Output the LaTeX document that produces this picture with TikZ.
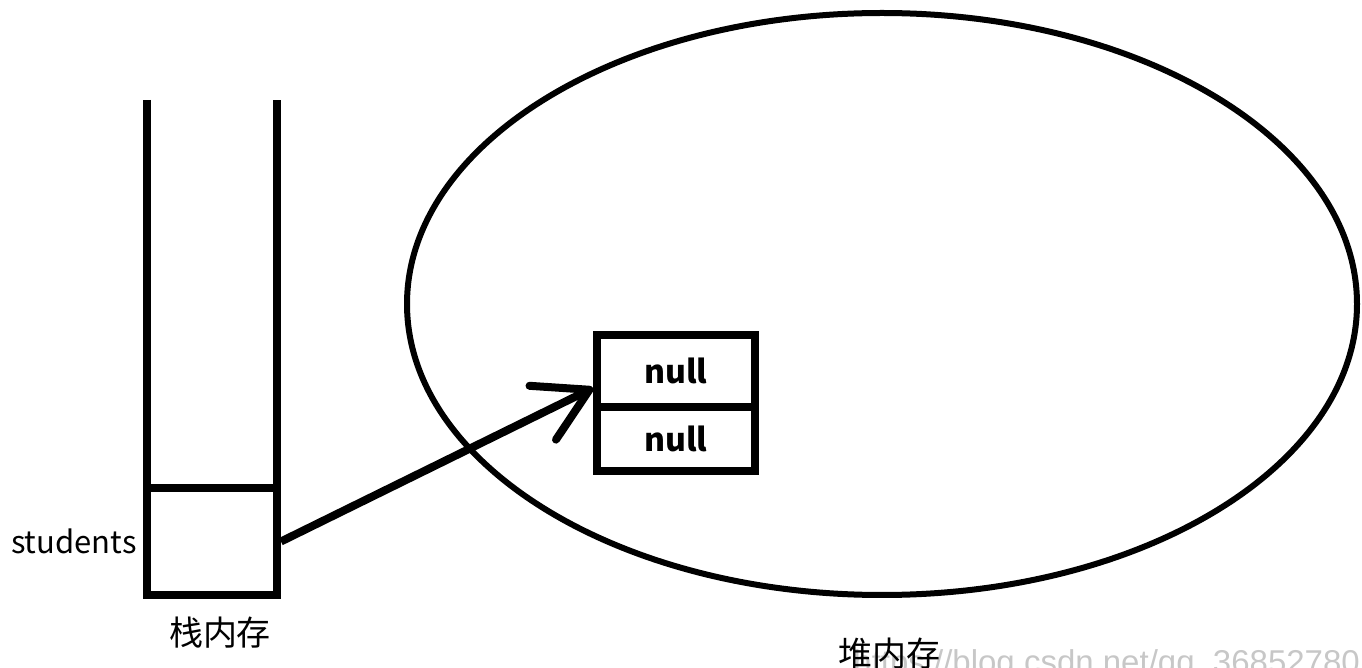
\documentclass[tikz,border=0pt]{standalone}
\usepackage{fontspec}
\setmainfont{Noto Sans CJK SC}
\newfontfamily\wmfont{Liberation Sans}
\usetikzlibrary{positioning,shapes.geometric,arrows.meta}

\begin{document}
\begin{tikzpicture}[x=0.5pt,y=-0.5pt]
    \useasboundingbox (0,0) rectangle (1362,668);
    \clip (0,0) rectangle (1362,668);
    \tikzset{Wall/.style={line width=4pt},
             Cell/.style={draw, line width=4pt, minimum width=79pt, inner sep=0pt,
                          font=\fontsize{16}{16}\selectfont\bfseries},
             Label/.style={inner sep=1pt, font=\fontsize{17}{17}\selectfont}}

    % heap
    \node[draw, ellipse, line width=3pt, minimum width=475pt, minimum height=291pt] (heap) at (882,304) {};
    \node[anchor=base west, inner sep=0pt, text=black!22, font=\wmfont\fontsize{16.5}{16.5}\selectfont]
        (wmark) at (853,674) {https://blog.csdn.net/qq\_36852780};
    \node[Label, below=19pt of heap, xshift=3.5pt] (heaplbl) {堆内存};

    % stack
    \draw[Wall] (147,100) -- (147,595) -- (277,595) -- (277,100);
    \node[Cell, minimum width=65pt, minimum height=53.5pt] (stk) at (212,541.5) {};
    \node[Label, left=2pt of stk, font=\fontsize{15.5}{15.5}\selectfont] (stulbl) {students};
    \node[Label, below=8pt of stk, xshift=4pt] (stklbl) {栈内存};

    % array
    \node[Cell, minimum height=36pt] (arr1) at (676,371) {null};
    \node[Cell, minimum height=32pt] (arr2) at (676,439) {null};

    \draw[line width=4pt, -{Straight Barb[length=26pt, width=30pt, round]}]
        (stk.east) -- ([yshift=-8.5pt]arr1.west);
\end{tikzpicture}
\end{document}
